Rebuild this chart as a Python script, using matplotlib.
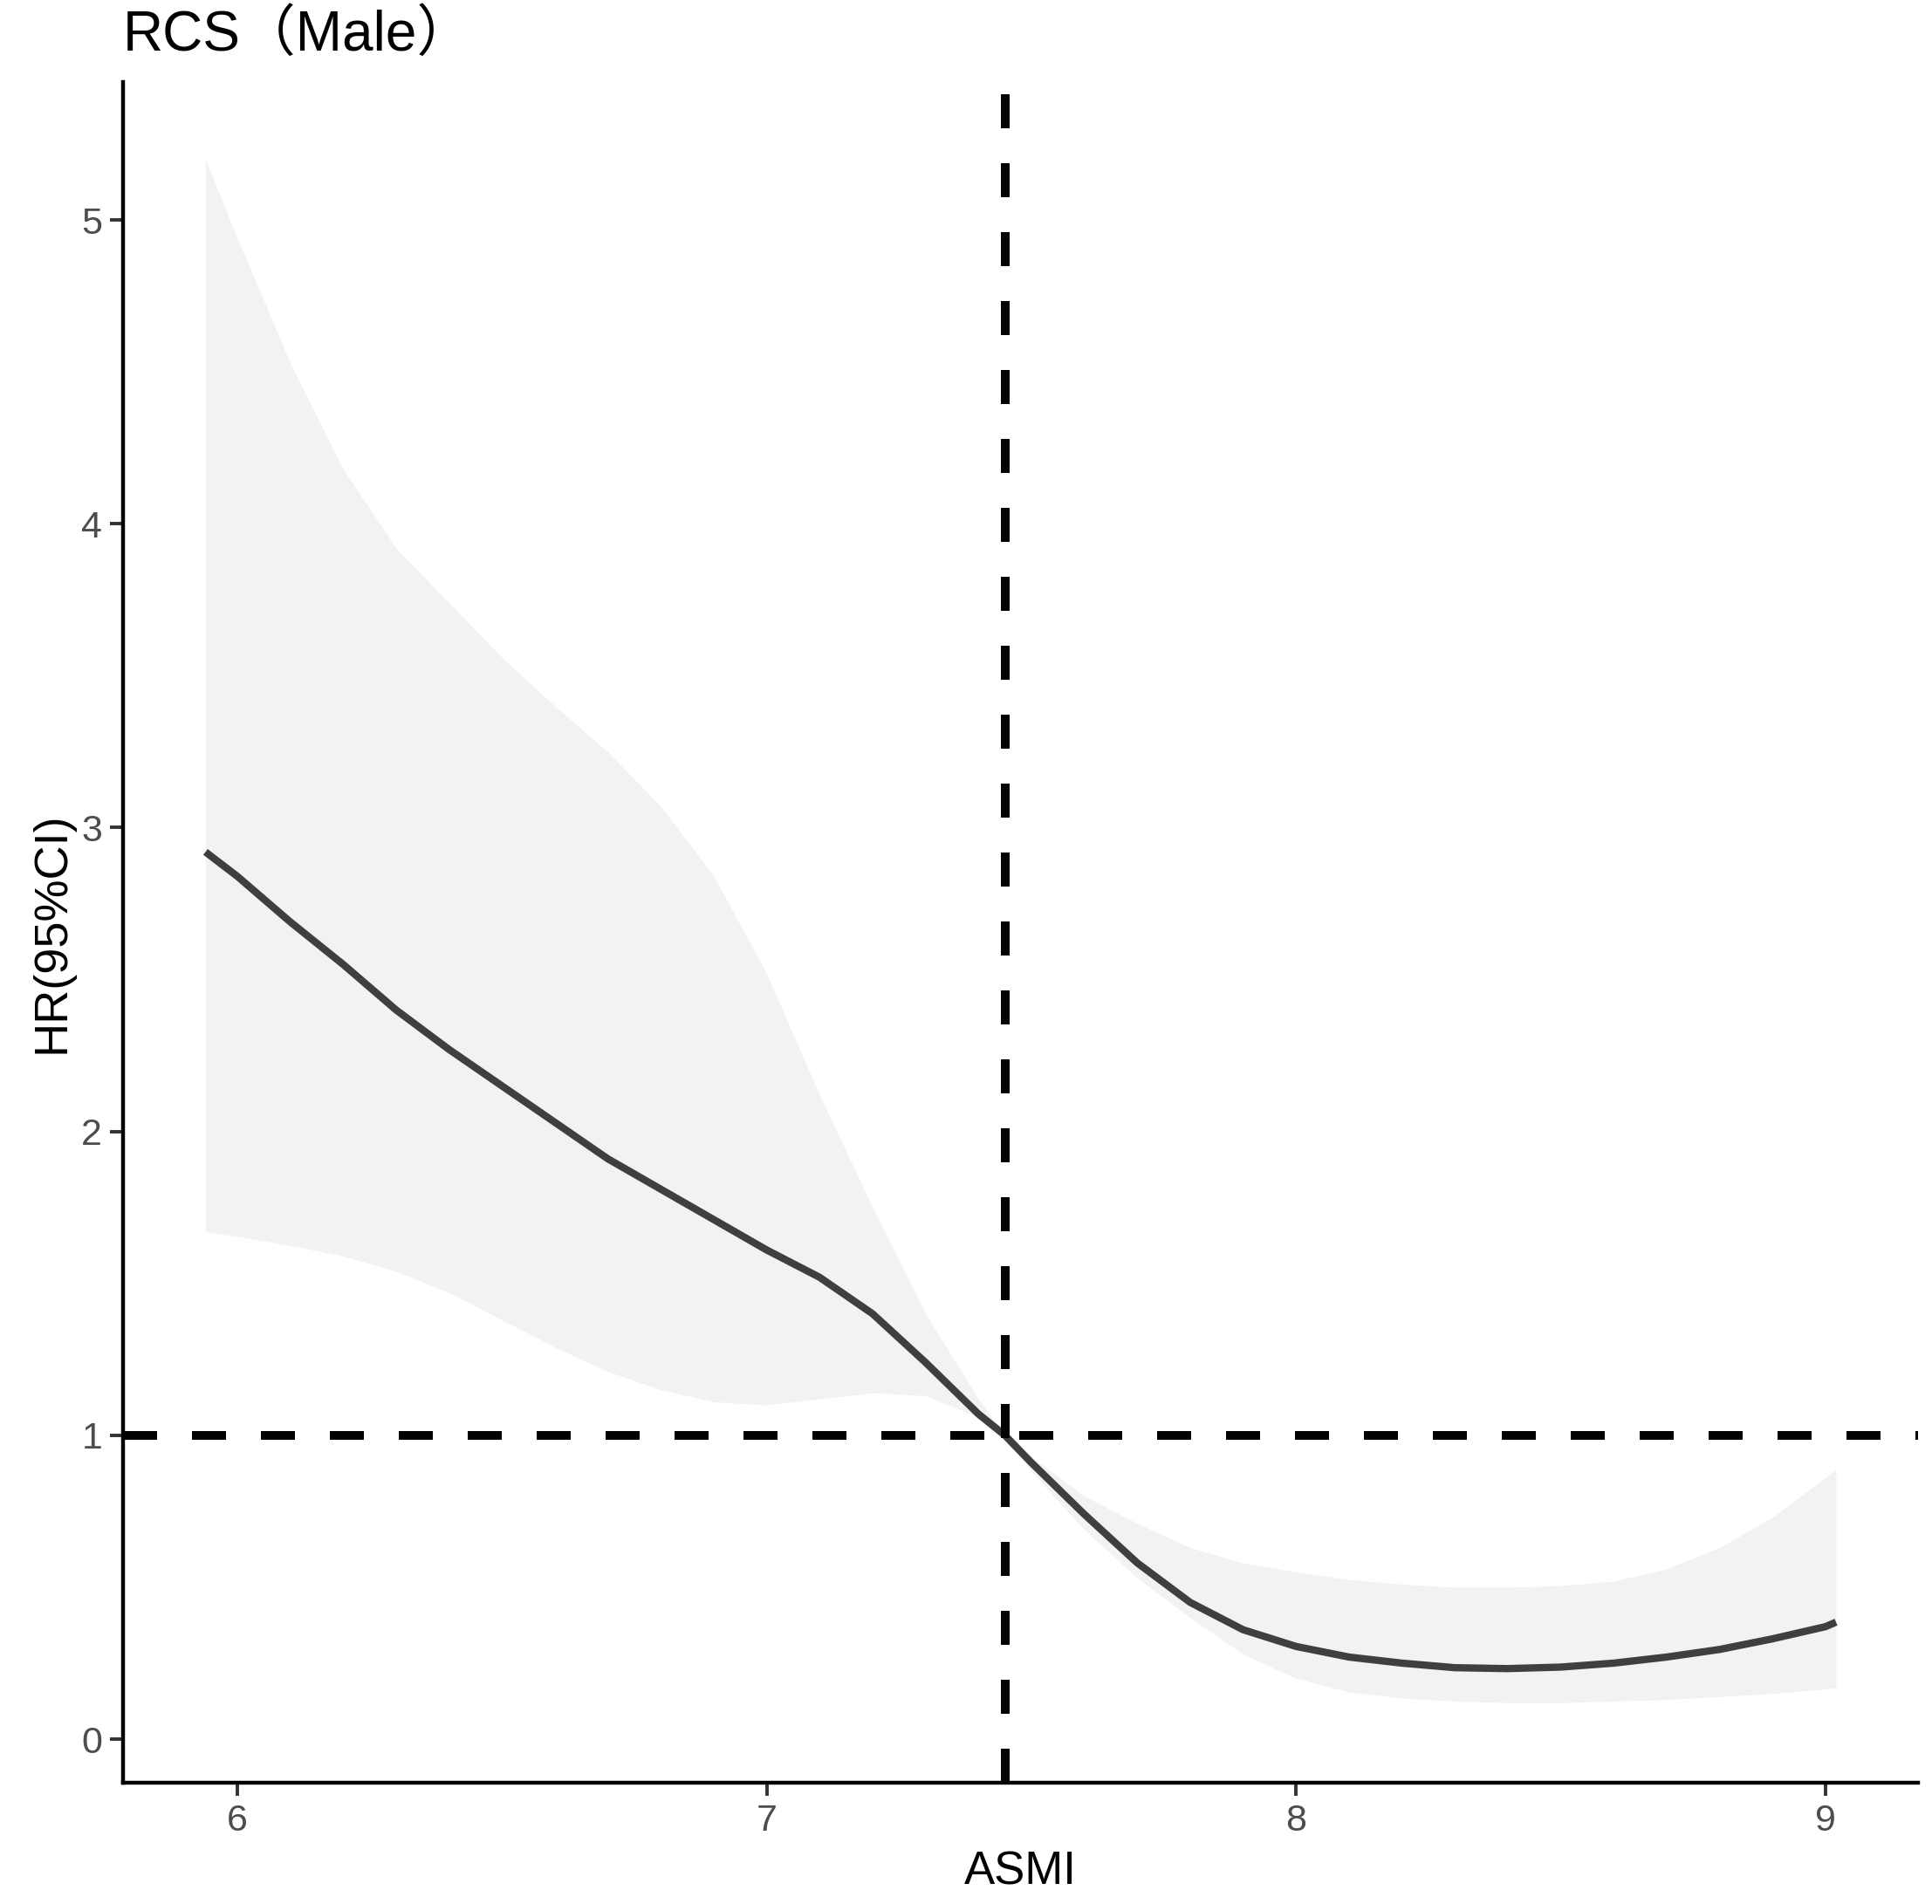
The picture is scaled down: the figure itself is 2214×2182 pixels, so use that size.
import matplotlib
matplotlib.use("Agg")
import matplotlib.pyplot as plt

plt.rcParams['font.family'] = ['Liberation Sans', 'Noto Sans CJK SC', 'DejaVu Sans']

# Values (restricted cubic spline, HR with 95% CI)
asmi = [5.94, 6.0, 6.1, 6.2, 6.3, 6.4, 6.5, 6.6, 6.7, 6.8, 6.9, 7.0, 7.1, 7.2, 7.3, 7.4, 7.45,
        7.5, 7.6, 7.7, 7.8, 7.9, 8.0, 8.1, 8.2, 8.3, 8.4, 8.5, 8.6, 8.7, 8.8, 8.9, 9.0, 9.02]
hr = [2.92, 2.84, 2.69, 2.55, 2.40, 2.27, 2.15, 2.03, 1.91, 1.81, 1.71, 1.61, 1.52, 1.40, 1.24,
      1.07, 1.00, 0.91, 0.74, 0.58, 0.45, 0.36, 0.305, 0.27, 0.25, 0.235, 0.232, 0.237, 0.25,
      0.27, 0.295, 0.33, 0.37, 0.385]
hr_upper = [5.20, 4.94, 4.53, 4.18, 3.92, 3.74, 3.56, 3.40, 3.25, 3.07, 2.84, 2.52, 2.12, 1.75,
            1.40, 1.12, 1.00, 0.93, 0.80, 0.71, 0.63, 0.58, 0.55, 0.525, 0.51, 0.50, 0.50, 0.505,
            0.52, 0.56, 0.63, 0.73, 0.86, 0.89]
hr_lower = [1.67, 1.655, 1.625, 1.59, 1.54, 1.47, 1.38, 1.29, 1.21, 1.15, 1.11, 1.10, 1.12, 1.14,
            1.13, 1.06, 1.00, 0.88, 0.69, 0.53, 0.40, 0.28, 0.20, 0.155, 0.135, 0.125, 0.12, 0.12,
            0.125, 0.13, 0.14, 0.15, 0.165, 0.17]
ref_asmi = 7.45
ref_hr = 1
x_ticks = [6, 7, 8, 9]
y_ticks = [0, 1, 2, 3, 4, 5]

fig = plt.figure(figsize=(22.14, 21.82), dpi=100)
ax = fig.add_axes([0.0636, 0.0637, 0.9292, 0.8932])

ax.fill_between(asmi, hr_lower, hr_upper, color='#F2F2F2', lw=0)
ax.plot(asmi, hr, color='#3F3F3F', lw=6, solid_capstyle='butt', solid_joinstyle='round')
ax.axhline(ref_hr, color='black', lw=7.2, dashes=(3.9, 4.0))
ax.axvline(ref_asmi, color='black', lw=7.2, dashes=(3.9, 4.0))

ax.set_xlim(5.784, 9.175)
ax.set_ylim(-0.1436, 5.454)
ax.set_xticks(x_ticks)
ax.set_yticks(y_ticks)

for side in ['top', 'right']:
    ax.spines[side].set_visible(False)
for side in ['left', 'bottom']:
    ax.spines[side].set_linewidth(3.2)
    ax.spines[side].set_color('black')

ax.tick_params(axis='both', length=11, width=2.8, color='#333333',
               labelcolor='#4D4D4D', labelsize=31, pad=6)

ax.set_xlabel('ASMI', fontsize=38, labelpad=10)
ax.set_ylabel('HR(95%CI)', fontsize=39, labelpad=6)
ax.set_title('RCS（Male）', fontsize=46, loc='left', pad=26)

fig.savefig('out.png', dpi=100, facecolor='white')
